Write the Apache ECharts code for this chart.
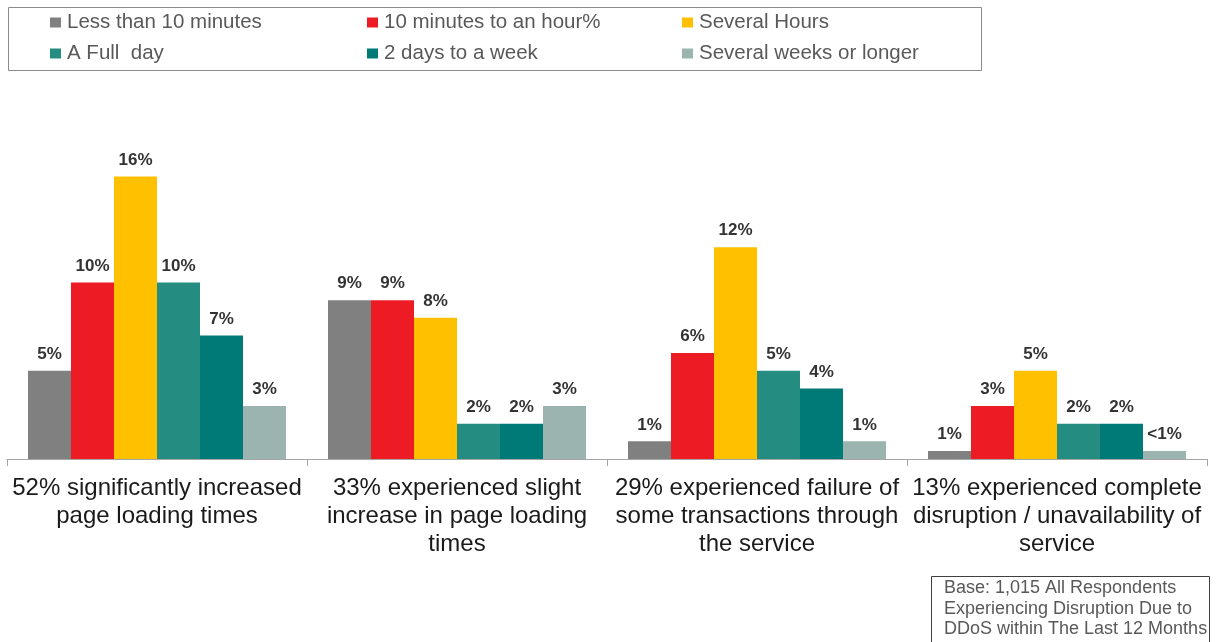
<!DOCTYPE html>
<html><head><meta charset="utf-8">
<script src="https://cdn.jsdelivr.net/npm/echarts@6/dist/echarts.min.js"></script>
<style>html,body{margin:0;padding:0;background:#fff}#c{width:1224px;height:642px}</style>
</head><body><div id="c"></div>
<script>
const categories = [
  "52% significantly increased\npage loading times",
  "33% experienced slight\nincrease in page loading\ntimes",
  "29% experienced failure of\nsome transactions through\nthe service",
  "13% experienced complete\ndisruption / unavailability of\nservice"
];
const seriesNames = ["Less than 10 minutes","10 minutes to an hour%","Several Hours","A Full  day","2 days to a week","Several weeks or longer"];
const lessThan10 = [5, 9, 1, 0.45];
const tenToHour = [10, 9, 6, 3];
const severalHours = [16, 8, 12, 5];
const fullDay = [10, 2, 5, 2];
const twoDaysWeek = [7, 2, 4, 2];
const severalWeeks = [3, 3, 1, 0.45];
const lessThan10Labels = ["5%","9%","1%","1%"];
const tenToHourLabels = ["10%","9%","6%","3%"];
const severalHoursLabels = ["16%","8%","12%","5%"];
const fullDayLabels = ["10%","2%","5%","2%"];
const twoDaysWeekLabels = ["7%","2%","4%","2%"];
const severalWeeksLabels = ["3%","3%","1%","<1%"];
const noteLines = ["Base: 1,015 All Respondents","Experiencing Disruption Due to","DDoS within The Last 12 Months"];

const colors = ["#808080","#ED1C24","#FFC000","#258C82","#007A76","#9BB4AF"];
const values = [lessThan10,tenToHour,severalHours,fullDay,twoDaysWeek,severalWeeks];
const labels = [lessThan10Labels,tenToHourLabels,severalHoursLabels,fullDayLabels,twoDaysWeekLabels,severalWeeksLabels];

const legendPos = [[50,12],[367,12],[682,12],[50,43],[367,43],[682,43]];
const legends = seriesNames.map((n,i)=>({
  data:[n], left: legendPos[i][0], top: legendPos[i][1], orient:'horizontal',
  itemWidth:11, itemHeight:10, itemGap:4, padding:0, icon:'rect', selectedMode:false,
  textStyle:{fontFamily:'Liberation Sans, Arial, sans-serif', fontSize:20.5, color:'#595959', padding:[0,0,0,1]}
}));

const chart = echarts.init(document.getElementById('c'), null, {renderer:'canvas'});
chart.setOption({
  animation:false,
  color: colors,
  legend: legends,
  grid:{left:7, width:1200, top:106, height:353, containLabel:false},
  xAxis:{type:'category', data:categories,
    axisLine:{lineStyle:{color:'#a6a6a6', width:1}},
    axisTick:{show:true, length:7, lineStyle:{color:'#a6a6a6'}},
    axisLabel:{interval:0, margin:15, fontFamily:'Liberation Sans, Arial, sans-serif', fontSize:24, lineHeight:28, color:'#1a1a1a', align:'center'}
  },
  yAxis:{type:'value', min:0, max:20, show:false, splitLine:{show:false}},
  series: seriesNames.map((n,i)=>({
    name:n, type:'bar', data: values[i], barGap:'0%', barCategoryGap:'14%',
    itemStyle:{color:colors[i]},
    label:{show:true, position:'top', distance:8, fontFamily:'Liberation Sans, Arial, sans-serif', fontWeight:'bold', fontSize:17, color:'#333',
      formatter: p => labels[i][p.dataIndex]}
  })),
  graphic:[
    {type:'rect', shape:{x:8.5,y:7.5,width:973,height:63}, style:{fill:'none', stroke:'#8c8c8c', lineWidth:1}, silent:true},
    {type:'rect', shape:{x:931.5,y:576.5,width:278,height:70}, style:{fill:'none', stroke:'#404040', lineWidth:1}, silent:true},
    {type:'text', left:944, top:578, style:{text:noteLines.join('\n'), font:'18px "Liberation Sans", Arial, sans-serif', fill:'#595959', lineHeight:20.5}}
  ]
});
</script></body></html>
